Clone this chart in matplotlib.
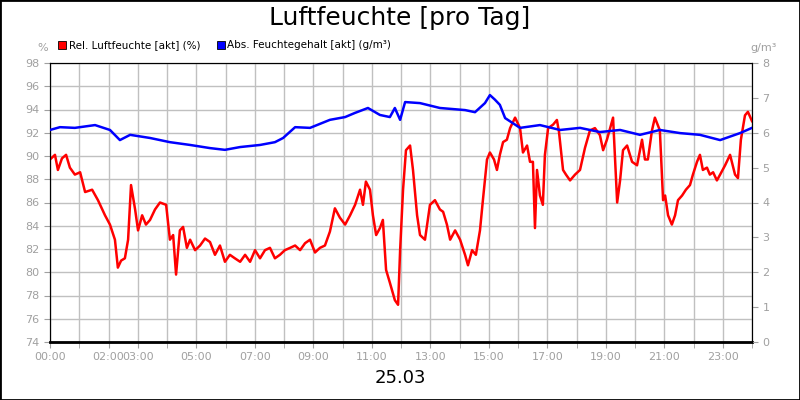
import matplotlib
matplotlib.use("Agg")
import matplotlib.pyplot as plt
from matplotlib.patches import Rectangle

# relative humidity (%), hours since 00:00
REL_HOURS = [0.00, 0.17, 0.27, 0.41, 0.55, 0.68, 0.85, 1.03, 1.20, 1.44, 1.64, 1.88, 2.05, 2.22, 2.32,
             2.43, 2.56, 2.67, 2.77, 2.91, 3.01, 3.15, 3.28, 3.42, 3.59, 3.76, 3.97, 4.10, 4.21, 4.31,
             4.44, 4.55, 4.68, 4.79, 4.96, 5.13, 5.30, 5.47, 5.64, 5.81, 5.98, 6.15, 6.32, 6.50, 6.67,
             6.84, 7.01, 7.18, 7.35, 7.52, 7.69, 7.86, 8.03, 8.21, 8.38, 8.55, 8.72, 8.89, 9.06, 9.23,
             9.40, 9.57, 9.74, 9.91, 10.09, 10.26, 10.43, 10.60, 10.70, 10.80, 10.94, 11.04, 11.15,
             11.28, 11.38, 11.49, 11.62, 11.79, 11.90, 11.97, 12.07, 12.17, 12.31, 12.41, 12.55, 12.65,
             12.82, 12.99, 13.16, 13.33, 13.44, 13.57, 13.68, 13.85, 14.02, 14.19, 14.29, 14.43, 14.56,
             14.70, 14.80, 14.94, 15.04, 15.18, 15.28, 15.38, 15.49, 15.62, 15.73, 15.90, 16.07, 16.17,
             16.31, 16.41, 16.51, 16.58, 16.65, 16.75, 16.85, 16.92, 17.03, 17.20, 17.33, 17.40, 17.54,
             17.64, 17.78, 17.95, 18.12, 18.29, 18.46, 18.63, 18.80, 18.91, 19.04, 19.15, 19.25, 19.39,
             19.49, 19.59, 19.73, 19.90, 20.07, 20.24, 20.34, 20.44, 20.58, 20.68, 20.85, 20.96, 21.03,
             21.13, 21.26, 21.37, 21.47, 21.61, 21.74, 21.88, 21.98, 22.12, 22.22, 22.32, 22.46, 22.56,
             22.67, 22.80, 22.91, 23.08, 23.25, 23.42, 23.52, 23.62, 23.76, 23.86, 24.00]
REL_VALUES = [89.7, 90.1, 88.8, 89.8, 90.1, 89.0, 88.4, 88.6, 86.9, 87.1, 86.2, 84.9, 84.1, 82.8, 80.4,
              81.0, 81.2, 82.8, 87.5, 85.4, 83.6, 84.9, 84.1, 84.5, 85.4, 86.0, 85.8, 82.8, 83.2, 79.8,
              83.6, 83.9, 82.1, 82.8, 81.9, 82.3, 82.9, 82.6, 81.5, 82.3, 80.9, 81.5, 81.2, 80.9, 81.5,
              80.9, 81.9, 81.2, 81.9, 82.1, 81.2, 81.5, 81.9, 82.1, 82.3, 81.9, 82.5, 82.8, 81.7, 82.1,
              82.3, 83.5, 85.5, 84.7, 84.1, 84.9, 85.8, 87.1, 85.8, 87.8, 87.1, 84.9, 83.2,
              83.8, 84.5, 80.2, 79.1, 77.6, 77.2, 81.9, 87.1, 90.5, 90.9, 88.8, 84.9, 83.2,
              82.8, 85.8, 86.2, 85.4, 85.2, 84.1, 82.8, 83.6, 82.8, 81.5, 80.6, 81.9, 81.5,
              83.6, 86.2, 89.7, 90.3, 89.7, 88.8, 90.1, 91.2, 91.4, 92.4, 93.3, 92.4, 90.3,
              90.9, 89.5, 89.5, 83.8, 88.8, 86.6, 85.8, 90.1, 92.4, 92.7, 93.1, 92.1, 88.8,
              88.4, 87.9, 88.4, 88.8, 90.7, 92.2, 92.4, 91.8, 90.5, 91.4, 92.4, 93.3, 86.0,
              87.9, 90.5, 90.9, 89.5, 89.2, 91.4, 89.7, 89.7, 92.2, 93.3, 92.2, 86.2, 86.6,
              84.9, 84.1, 84.9, 86.2, 86.6, 87.1, 87.5, 88.4, 89.5, 90.1, 88.8, 89.0, 88.4,
              88.6, 87.9, 88.4, 89.2, 90.1, 88.4, 88.1, 91.4, 93.5, 93.8, 93.0]

# absolute humidity (g/m³)
ABS_HOURS = [0.00, 0.34, 0.85, 1.54, 2.05, 2.39, 2.74, 3.42, 4.10, 4.79, 5.47, 5.98, 6.50, 7.18, 7.69,
             7.97, 8.38, 8.89, 9.57, 10.09, 10.43, 10.87, 11.28, 11.62, 11.79, 11.97, 12.14, 12.65,
             13.33, 14.19, 14.53, 14.87, 15.04, 15.21, 15.38, 15.56, 16.07, 16.75, 17.44, 18.12,
             18.80, 19.49, 20.17, 20.85, 21.54, 22.22, 22.91, 23.59, 24.00]
ABS_VALUES = [6.08, 6.16, 6.14, 6.22, 6.08, 5.79, 5.94, 5.85, 5.73, 5.65, 5.56, 5.51, 5.59, 5.65, 5.73,
              5.85, 6.16, 6.14, 6.37, 6.45, 6.57, 6.71, 6.51, 6.45, 6.71, 6.37, 6.88, 6.85,
              6.71, 6.65, 6.59, 6.85, 7.08, 6.95, 6.80, 6.42, 6.14, 6.22, 6.08, 6.14,
              6.02, 6.08, 5.94, 6.08, 5.99, 5.94, 5.79, 5.99, 6.14]

TICK_HOURS = [0, 2, 3, 5, 7, 9, 11, 13, 15, 17, 19, 21, 23]
TICK_LABELS = ["%02d:00" % h for h in TICK_HOURS]

GREY = "#a0a0a0"

fig = plt.figure(figsize=(8, 4), dpi=100)
fig.patches.append(Rectangle((0, 0), 1, 1, transform=fig.transFigure, fill=False,
                             edgecolor="black", linewidth=2))
ax = fig.add_axes([0.0625, 0.145, 0.8775, 0.6975])
ax2 = ax.twinx()

ax.plot(REL_HOURS, REL_VALUES, color="#ff0000", linewidth=1.8, zorder=3)
ax2.plot(ABS_HOURS, ABS_VALUES, color="#0000ff", linewidth=1.8, zorder=3)

ax.set_xlim(0, 24)
ax.set_ylim(74, 98)
ax2.set_ylim(0, 8)
ax.set_yticks(range(74, 99, 2))
ax2.set_yticks(range(0, 9))
ax.set_xticks(range(0, 25), minor=True)
ax.set_xticks(TICK_HOURS)
ax.set_xticklabels(TICK_LABELS)
ax.grid(True, which="both", axis="x", color="#c0c0c0", linewidth=1)
ax.grid(True, axis="y", color="#c0c0c0", linewidth=1)
ax.set_axisbelow(True)
for a in (ax, ax2):
    a.tick_params(colors=GREY, labelsize=8, length=4, which="both")
    for s in a.spines.values():
        s.set_color("black")
ax.spines["bottom"].set_linewidth(2)

fig.text(0.5, 0.955, "Luftfeuchte [pro Tag]", ha="center", va="center", fontsize=18)
fig.text(0.5, 0.055, "25.03", ha="center", va="center", fontsize=13)
fig.text(0.053, 0.88, "%", ha="center", va="center", fontsize=8, color=GREY)
fig.text(0.955, 0.88, "g/m³", ha="center", va="center", fontsize=8, color=GREY)

fig.patches.append(Rectangle((0.073, 0.877), 0.01, 0.02, transform=fig.transFigure,
                             facecolor="#ff0000", edgecolor="black", linewidth=0.6))
fig.text(0.086, 0.887, "Rel. Luftfeuchte [akt] (%)", va="center", fontsize=7.5)
fig.patches.append(Rectangle((0.271, 0.877), 0.01, 0.02, transform=fig.transFigure,
                             facecolor="#0000ff", edgecolor="black", linewidth=0.6))
fig.text(0.284, 0.887, "Abs. Feuchtegehalt [akt] (g/m³)", va="center", fontsize=7.5)

fig.savefig("out.png", dpi=100)
